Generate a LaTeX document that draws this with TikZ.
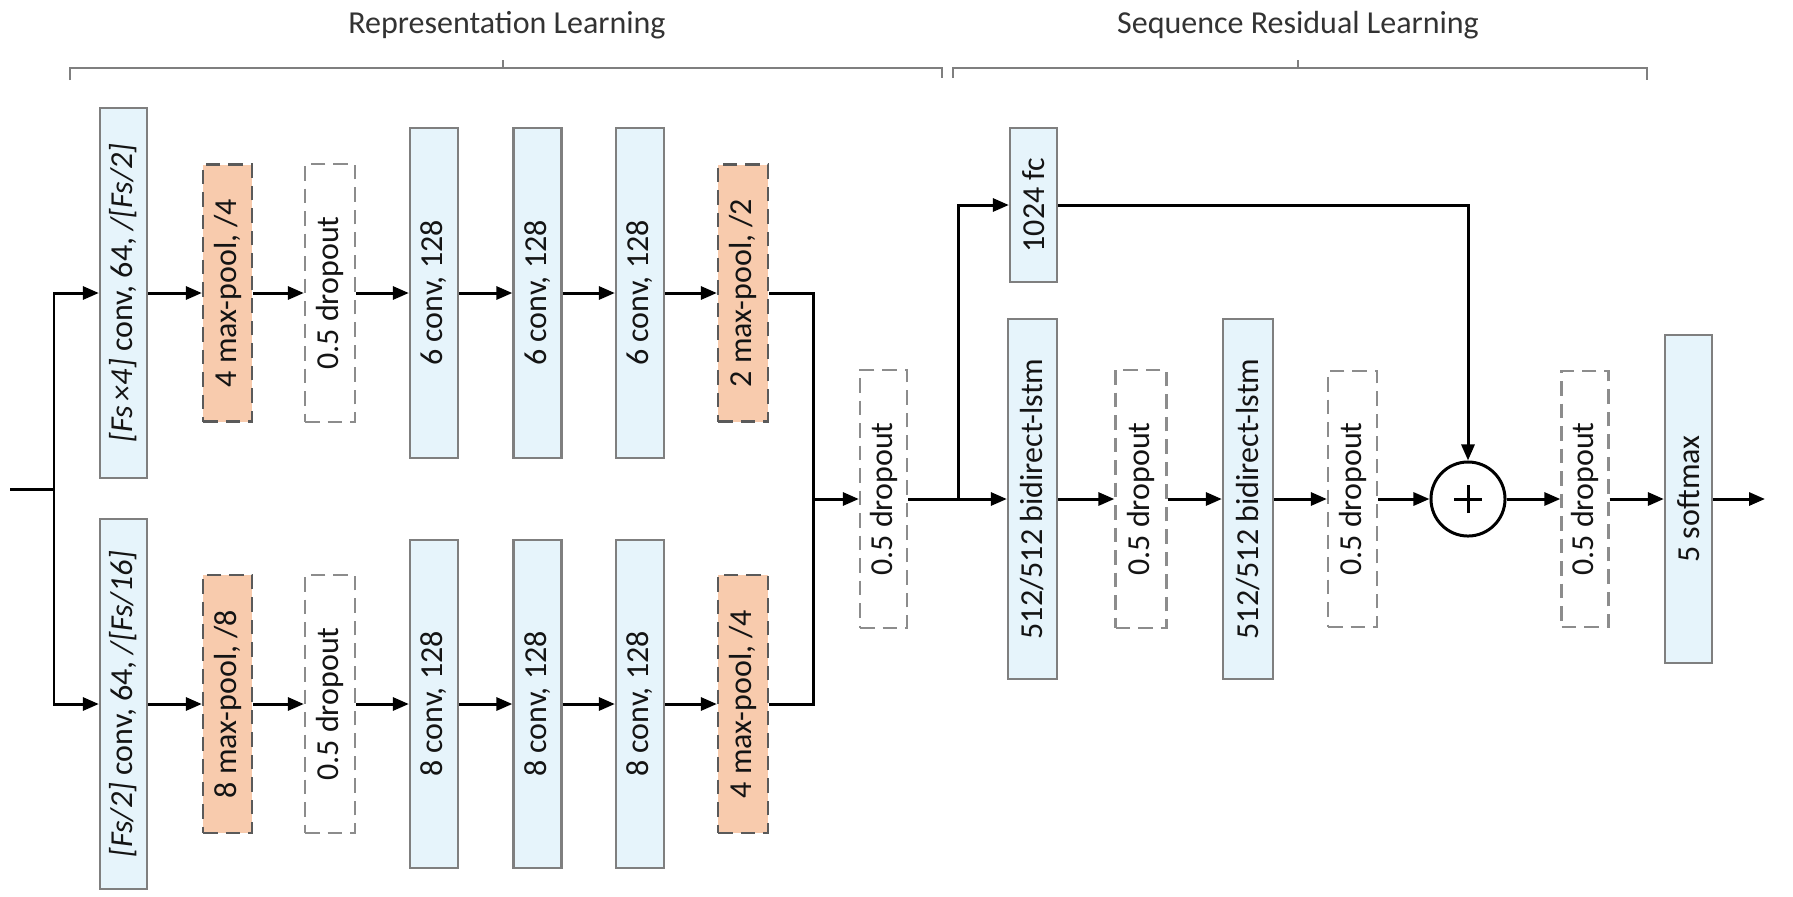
\documentclass[tikz,border=0pt]{standalone}
\usepackage{fontspec}
\usepackage{graphicx}
\setmainfont{Carlito}
\usetikzlibrary{arrows.meta}
\definecolor{convfill}{HTML}{E6F4FB}
\definecolor{poolfill}{HTML}{F8CBAD}
\definecolor{bordergray}{HTML}{7F7F7F}
\definecolor{pooledge}{HTML}{5A5A5A}
\definecolor{dropedge}{HTML}{8C8C8C}
\definecolor{txt}{HTML}{141414}
\definecolor{titletxt}{HTML}{333333}
\begin{document}
\begin{tikzpicture}[x=0.01cm,y=-0.01cm,
  font=\fontsize{9.1}{11}\selectfont\color{txt},
  sz/.style 2 args={minimum width=#1*0.01cm, minimum height=#2*0.01cm},
  blk/.style={rectangle, inner sep=0pt, line width=0.65pt},
  convbox/.style={blk, draw=bordergray, fill=convfill},
  poolbox/.style={blk, draw=pooledge, fill=poolfill, dash pattern=on 4.2pt off 2.2pt},
  dropbox/.style={blk, draw=dropedge, fill=white, dash pattern=on 4.2pt off 2.2pt},
  conn/.style={line width=0.85pt, draw=black},
  arr/.style={conn, -{Triangle[length=0.16cm,width=0.13cm]}},
  brace/.style={line width=0.5pt, draw=bordergray},
  title/.style={font=\fontsize{9.1}{11}\selectfont\color{titletxt}}
]
\useasboundingbox (0,0) rectangle (1793,896);

% titles and braces
\node[title] (t1) at (507,25) {Representation Learning};
\node[title] (t2) at (1298,25) {Sequence Residual Learning};
\draw[brace] (70,80) -- (70,68) -- (942,68) -- (942,78);
\draw[brace] (503,68) -- (503,60);
\draw[brace] (953,78) -- (953,68) -- (1647,68) -- (1647,80);
\draw[brace] (1298,68) -- (1298,60);

% top branch
\node[convbox, sz={47}{370}] (c1a) at (123.5,293) {\rotatebox{90}{\textit{[Fs\,×4]} conv, 64, \textit{/[Fs/2]}}};
\node[poolbox, sz={49}{257}] (p1a) at (227.5,293) {\rotatebox{90}{4 max-pool, /4}};
\node[dropbox, sz={50}{258}] (d1a) at (330,293) {\rotatebox{90}{0.5 dropout}};
\node[convbox, sz={48}{330}] (c2a) at (434,293) {\rotatebox{90}{6 conv, 128}};
\node[convbox, sz={48}{330}] (c3a) at (537.5,293) {\rotatebox{90}{6 conv, 128}};
\node[convbox, sz={48}{330}] (c4a) at (640,293) {\rotatebox{90}{6 conv, 128}};
\node[poolbox, sz={50}{257}] (p2a) at (743,293) {\rotatebox{90}{2 max-pool, /2}};

% bottom branch
\node[convbox, sz={47}{370}] (c1b) at (123.5,704) {\rotatebox{90}{\textit{[Fs/2]} conv, 64, \textit{/[Fs/16]}}};
\node[poolbox, sz={49}{258}] (p1b) at (227.5,704) {\rotatebox{90}{8 max-pool, /8}};
\node[dropbox, sz={50}{258}] (d1b) at (330,704) {\rotatebox{90}{0.5 dropout}};
\node[convbox, sz={48}{328}] (c2b) at (434,704) {\rotatebox{90}{8 conv, 128}};
\node[convbox, sz={48}{328}] (c3b) at (537.5,704) {\rotatebox{90}{8 conv, 128}};
\node[convbox, sz={48}{328}] (c4b) at (640,704) {\rotatebox{90}{8 conv, 128}};
\node[poolbox, sz={50}{258}] (p2b) at (743,704) {\rotatebox{90}{4 max-pool, /4}};

% sequence part
\node[dropbox, sz={47}{258}] (dm) at (883.5,499) {\rotatebox{90}{0.5 dropout}};
\node[convbox, sz={47}{154}] (fc) at (1033.5,205) {\rotatebox{90}{1024 fc}};
\node[convbox, sz={49}{360}] (l1) at (1032.5,499) {\rotatebox{90}{512/512 bidirect-lstm}};
\node[dropbox, sz={51}{258}] (d2) at (1141,499) {\rotatebox{90}{0.5 dropout}};
\node[convbox, sz={50}{360}] (l2) at (1248,499) {\rotatebox{90}{512/512 bidirect-lstm}};
\node[dropbox, sz={49}{256}] (d3) at (1352.5,499) {\rotatebox{90}{0.5 dropout}};
\node[circle, draw=black, line width=0.85pt, fill=white, minimum size=0.74cm, inner sep=0pt] (plus) at (1468,499) {};
\draw[line width=0.85pt] ([xshift=-0.14cm]plus.center) -- ([xshift=0.14cm]plus.center);
\draw[line width=0.85pt] ([yshift=-0.14cm]plus.center) -- ([yshift=0.14cm]plus.center);
\node[dropbox, sz={47}{256}] (d4) at (1585,499) {\rotatebox{90}{0.5 dropout}};
\node[convbox, sz={47}{328}] (sm) at (1688.5,499) {\rotatebox{90}{5 softmax}};

% coordinates
\coordinate (in) at (10,489);
\coordinate (sp) at (54,489);
\coordinate (mrg) at (813,499);
\coordinate (sp2) at (958,499);
\coordinate (out) at (1765,499);

% connectors
\draw[conn] (in) -- (sp);
\draw[arr] (sp) |- (c1a);
\draw[arr] (sp) |- (c1b);
\draw[arr] (c1a) -- (p1a);
\draw[arr] (p1a) -- (d1a);
\draw[arr] (d1a) -- (c2a);
\draw[arr] (c2a) -- (c3a);
\draw[arr] (c3a) -- (c4a);
\draw[arr] (c4a) -- (p2a);
\draw[arr] (c1b) -- (p1b);
\draw[arr] (p1b) -- (d1b);
\draw[arr] (d1b) -- (c2b);
\draw[arr] (c2b) -- (c3b);
\draw[arr] (c3b) -- (c4b);
\draw[arr] (c4b) -- (p2b);
\draw[conn] (p2a) -| (mrg);
\draw[conn] (p2b) -| (mrg);
\draw[arr] (mrg) -- (dm);
\draw[conn] (dm) -- (sp2);
\draw[arr] (sp2) -- (l1);
\draw[arr] (sp2) |- (fc);
\draw[arr] (l1) -- (d2);
\draw[arr] (d2) -- (l2);
\draw[arr] (l2) -- (d3);
\draw[arr] (d3) -- (plus);
\draw[arr] (fc) -| (plus);
\draw[arr] (plus) -- (d4);
\draw[arr] (d4) -- (sm);
\draw[arr] (sm) -- (out);
\end{tikzpicture}
\end{document}
